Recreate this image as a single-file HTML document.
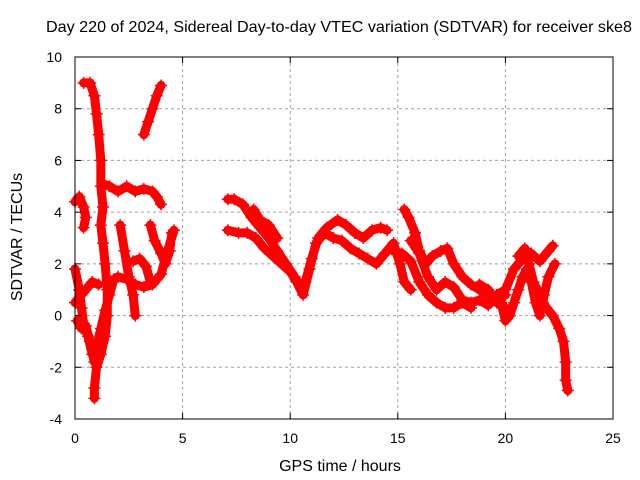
<!DOCTYPE html>
<html><head><meta charset="utf-8"><style>
body{margin:0;background:#fff}
svg{display:block;font-family:"Liberation Sans",sans-serif}
</style></head><body>
<svg id="chart" width="640" height="480" viewBox="0 0 640 480">
<rect width="640" height="480" fill="#fff"/>
<text x="46" y="32" font-size="16" textLength="586" lengthAdjust="spacingAndGlyphs">Day 220 of 2024, Sidereal Day-to-day VTEC variation (SDTVAR) for receiver ske8</text>
<text transform="translate(22,237) rotate(-90)" text-anchor="middle" font-size="16">SDTVAR / TECUs</text>
<text x="340" y="471" text-anchor="middle" font-size="16">GPS time / hours</text>
<g id="grid"></g><g id="marks"></g><g id="axes"></g>
</svg>
<script>
const xTicks=[0,5,10,15,20,25];
const yTicks=[-4,-2,0,2,4,6,8,10];
const tracks=[
[[0.4,9.0],[0.7,9.0],[0.9,8.5],[1.0,7.8],[1.1,7.0],[1.2,6.0],[1.2,5.0],[1.3,4.2],[1.2,3.5],[1.3,2.8],[1.4,2.0],[1.5,1.0],[1.5,0],[1.4,-0.8],[1.2,-1.5],[1.0,-2.0],[0.9,-2.8],[0.9,-3.2]],
[[3.2,7.0],[3.4,7.5],[3.6,8.0],[3.8,8.5],[4.0,8.9]],
[[1.3,5.1],[1.6,5.0],[2.0,4.8],[2.4,5.0],[2.8,4.8],[3.2,4.9],[3.6,4.8],[3.8,4.6],[4.0,4.3]],
[[0.0,4.4],[0.2,4.6],[0.4,4.2],[0.5,3.8],[0.4,3.4]],
[[0.0,1.8],[0.2,1.0],[0.3,0.3],[0.4,-0.3],[0.6,-0.8],[0.8,-1.5],[1.0,-1.2],[1.2,-0.5],[1.4,0.2],[1.6,0.8],[1.8,1.4],[2.0,1.5],[2.4,1.4],[2.8,1.2],[3.2,1.1],[3.6,1.2],[4.0,1.6],[4.3,2.5],[4.6,3.3]],
[[0.0,0.5],[0.3,0.8],[0.6,1.1],[0.8,1.3],[1.1,1.2]],
[[2.1,3.5],[2.3,2.5],[2.5,1.5],[2.7,0.8],[2.8,0]],
[[3.5,3.5],[3.7,2.9],[4.0,2.4],[4.2,2.0],[4.4,2.5],[4.5,3.2]],
[[2.7,2.1],[3.0,2.2],[3.3,1.9],[3.5,1.3]],
[[0.1,-0.2],[0.3,-0.5],[0.5,-0.4],[0.7,-1.0],[0.9,-1.8]],
[[7.1,4.5],[7.4,4.5],[7.8,4.3],[8.2,3.8],[8.6,3.4],[9.0,3.0],[9.4,2.5],[9.8,2.0],[10.2,1.5],[10.5,1.1],[10.7,1.3],[11.0,2.2],[11.3,3.0],[11.7,3.4],[12.2,3.7],[12.6,3.5],[13.0,3.2],[13.4,3.0],[13.8,3.3],[14.2,3.4],[14.5,3.3]],
[[7.1,3.3],[7.6,3.2],[8.0,3.2],[8.4,3.0],[8.8,2.6],[9.2,2.3],[9.6,2.0],[10.0,1.7],[10.3,1.3],[10.6,0.8],[10.9,1.8],[11.2,2.8],[11.6,3.2],[12.0,3.0],[12.4,2.9],[12.8,2.6],[13.2,2.4],[13.6,2.2],[14.0,2.0],[14.4,2.4],[14.8,2.8],[15.1,2.0],[15.3,1.3],[15.6,1.0]],
[[8.3,4.1],[8.6,3.7],[9.0,3.5],[9.4,3.0]],
[[15.3,4.1],[15.5,3.8],[15.8,3.2],[16.0,2.5],[16.3,2.0],[16.6,2.3],[17.0,2.5],[17.3,2.6],[17.6,2.0],[18.0,1.5],[18.4,1.2],[18.8,1.0],[19.2,0.8],[19.6,0.7],[20.0,0.8]],
[[15.6,2.9],[16.0,2.4],[16.4,1.5],[16.8,1.0],[17.2,1.3],[17.6,1.1],[18.0,0.6],[18.4,0.5],[18.8,0.6],[19.2,0.4],[19.6,0.8],[20.0,1.0],[20.4,1.8],[20.8,2.2],[21.2,2.4],[21.6,2.1],[22.0,2.5],[22.2,2.7]],
[[14.8,2.5],[15.2,2.4],[15.6,2.1],[16.0,1.3],[16.4,0.8],[16.8,0.5],[17.2,0.3],[17.6,0.3],[18.0,0.5],[18.4,0.3]],
[[19.8,0.5],[20.0,-0.2],[20.2,0],[20.4,0.5],[20.6,1.0],[20.8,1.5],[21.0,1.8],[21.2,1.3],[21.4,0.5],[21.6,0],[21.8,0.8],[22.0,1.5],[22.3,2.0]],
[[20.6,2.3],[20.9,2.6],[21.1,2.0],[21.3,1.3],[21.6,0.8],[21.9,0.3],[22.2,0],[22.5,-0.5],[22.7,-1.0],[22.8,-1.8],[22.8,-2.5],[22.9,-2.9]],
[[18.8,1.2],[19.2,1.0],[19.6,0.5],[20.0,0.3]]
];
const NS="http://www.w3.org/2000/svg";
const L=75,R=613,T=57,B=419;
const xs=v=>L+(v-0)/25*(R-L);
const ys=v=>B-(v+4)/14*(B-T);
function mk(tag,attrs,parent){const e=document.createElementNS(NS,tag);for(const k in attrs)e.setAttribute(k,attrs[k]);parent.appendChild(e);return e;}
const grid=document.getElementById('grid'),marks=document.getElementById('marks'),axes=document.getElementById('axes');
xTicks.forEach(t=>{
  const x=xs(t);
  if(t>0&&t<25){const g=mk('line',{x1:x,x2:x,y1:T,y2:B,stroke:'#a0a0a0','stroke-dasharray':'3,3'},grid);
  
  }
  mk('line',{x1:x,x2:x,y1:B,y2:B-6,stroke:'#000'},axes);
  mk('line',{x1:x,x2:x,y1:T,y2:T+6,stroke:'#000'},axes);
  const tx=mk('text',{x:x,y:443,'text-anchor':'middle','font-size':14},axes);tx.textContent=t;
  
  
});
yTicks.forEach(t=>{
  const y=ys(t);
  if(t>-4&&t<10){const g=mk('line',{x1:L,x2:R,y1:y,y2:y,stroke:'#a0a0a0','stroke-dasharray':'3,3'},grid);
  
  }
  mk('line',{x1:L,x2:L+6,y1:y,y2:y,stroke:'#000'},axes);
  mk('line',{x1:R,x2:R-6,y1:y,y2:y,stroke:'#000'},axes);
  const tx=mk('text',{x:62,y:y+5,'text-anchor':'end','font-size':14},axes);tx.textContent=t;
  
  
});
const frame=mk('rect',{x:L,y:T,width:R-L,height:B-T,fill:'none',stroke:'#000'},axes);


tracks.forEach(tr=>{
  const pl=mk('polyline',{points:tr.map(p=>xs(p[0])+','+ys(p[1])).join(' '),fill:'none',stroke:'#f00','stroke-width':9,'stroke-linejoin':'round','stroke-linecap':'round'},marks);
  
  
  tr.forEach(p=>{
    const x=xs(p[0]),y=ys(p[1]);
    const m=mk('path',{d:`M${x-6},${y}H${x+6}M${x},${y-6}V${y+6}`,stroke:'#f00','stroke-width':1.5},marks);
    
    
  });
});
</script>
</body></html>
